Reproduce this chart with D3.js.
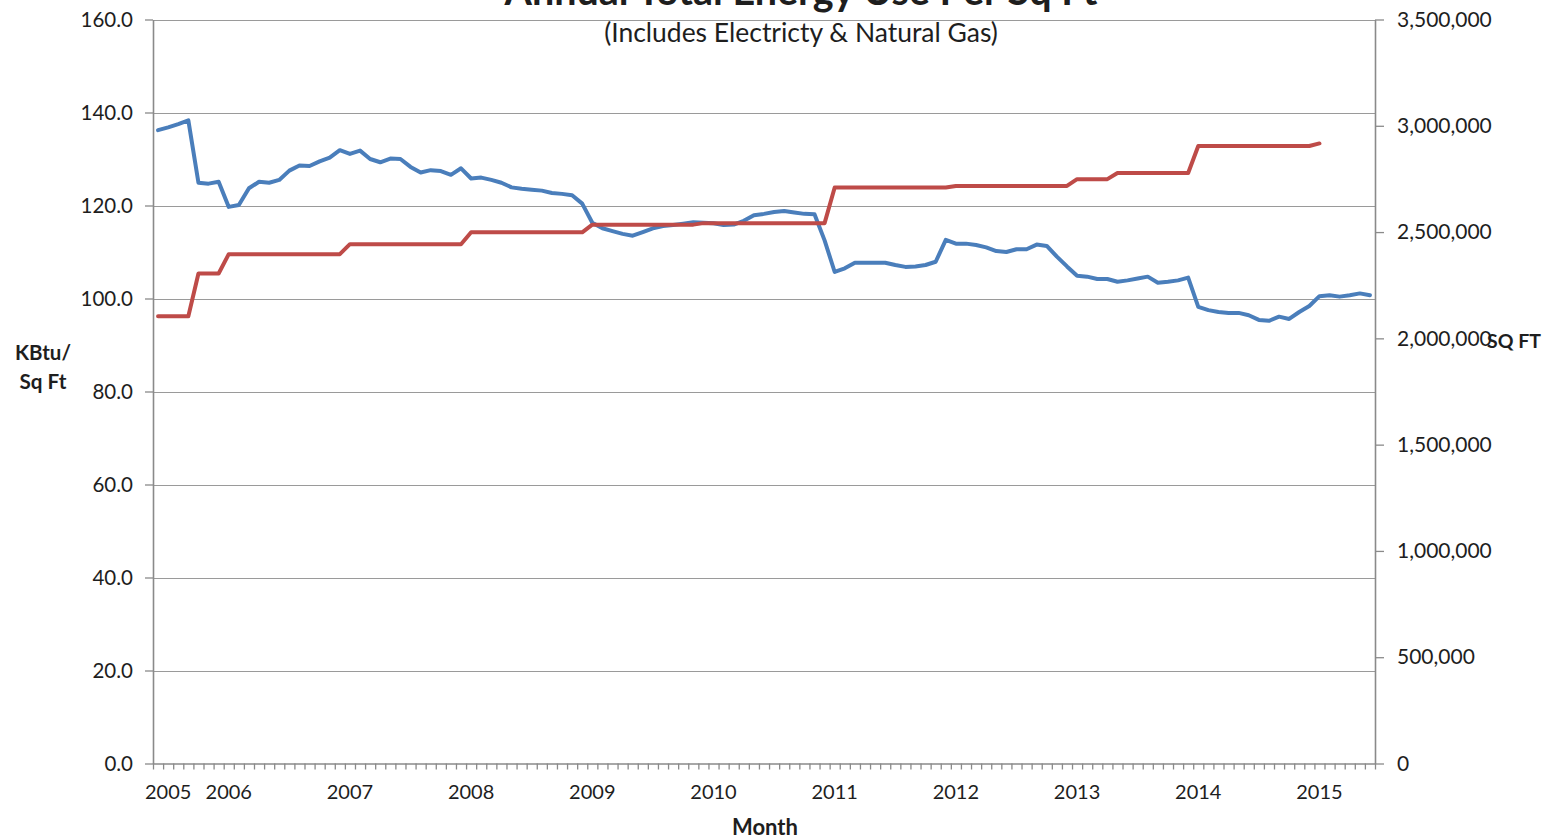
<!DOCTYPE html>
<html>
<head>
<meta charset="utf-8">
<script src="https://cdn.jsdelivr.net/npm/d3@7"></script>
<style>
  html, body { margin: 0; padding: 0; background: #ffffff; }
  svg { display: block; }
  text { font-family: Lato, "Open Sans", "Liberation Sans", sans-serif; fill: #1e1e1e; }
</style>
</head>
<body>
<svg id="chart" width="1548" height="839"></svg>
<script>
// ---------------- DATA ----------------
// Monthly categories, Jun 2005 .. Jun 2015
const months = d3.timeMonth.range(new Date(2005, 5, 1), new Date(2015, 6, 1)).map(d3.timeFormat("%Y-%m"));

// Category labels shown on the axis
const yearLabels = ["2005", "2006", "2007", "2008", "2009", "2010", "2011", "2012", "2013", "2014", "2015"];
const yearLabelMonths = ["2005-07", "2006-01", "2007-01", "2008-01", "2009-01", "2010-01", "2011-01", "2012-01", "2013-01", "2014-01", "2015-01"];

// Annual total energy use per sq ft (KBtu/Sq Ft), left axis
const kbtuPerSqFt = [
  136.2, 136.8, 137.5, 138.3, 124.9, 124.7, 125.1, 119.7, 120.1, 123.7,
  125.1, 124.9, 125.5, 127.5, 128.6, 128.5, 129.5, 130.3, 131.9, 131.1,
  131.8, 130.0, 129.3, 130.1, 130.0, 128.3, 127.1, 127.6, 127.4, 126.6,
  128.0, 125.8, 126.0, 125.5, 124.9, 123.9, 123.6, 123.4, 123.2, 122.7,
  122.5, 122.2, 120.4, 116.3, 115.1, 114.5, 113.9, 113.5, 114.3, 115.1,
  115.6, 115.8, 116.1, 116.4, 116.3, 116.2, 115.8, 115.9, 116.7, 117.9,
  118.2, 118.6, 118.8, 118.5, 118.2, 118.1, 112.5, 105.7, 106.5, 107.7,
  107.7, 107.7, 107.7, 107.2, 106.8, 106.9, 107.2, 107.9, 112.6, 111.8,
  111.8, 111.5, 111.0, 110.2, 110.0, 110.6, 110.6, 111.6, 111.3, 109.0,
  106.9, 104.9, 104.7, 104.2, 104.2, 103.6, 103.9, 104.3, 104.7, 103.4,
  103.6, 103.9, 104.5, 98.2, 97.5, 97.1, 96.9, 96.9, 96.4, 95.4,
  95.2, 96.1, 95.6, 97.1, 98.4, 100.5, 100.7, 100.4, 100.7, 101.1,
  100.7
];

// Total square footage, right axis
const sqFt = [
  2104000, 2104000, 2104000, 2104000,
  2305000, 2305000, 2305000,
  2396000, 2396000, 2396000, 2396000, 2396000, 2396000, 2396000, 2396000, 2396000, 2396000, 2396000, 2396000,
  2443000, 2443000, 2443000, 2443000, 2443000, 2443000, 2443000, 2443000, 2443000, 2443000, 2443000, 2443000,
  2499000, 2499000, 2499000, 2499000, 2499000, 2499000, 2499000, 2499000, 2499000, 2499000, 2499000, 2499000,
  2535000, 2535000, 2535000, 2535000, 2535000, 2535000, 2535000, 2535000, 2535000, 2535000, 2535000,
  2542000, 2542000, 2542000, 2542000, 2542000, 2542000, 2542000, 2542000, 2542000, 2542000, 2542000, 2542000, 2542000,
  2710000, 2710000, 2710000, 2710000, 2710000, 2710000, 2710000, 2710000, 2710000, 2710000, 2710000, 2710000,
  2717000, 2717000, 2717000, 2717000, 2717000, 2717000, 2717000, 2717000, 2717000, 2717000, 2717000, 2717000,
  2749000, 2749000, 2749000, 2749000,
  2778000, 2778000, 2778000, 2778000, 2778000, 2778000, 2778000, 2778000,
  2905000, 2905000, 2905000, 2905000, 2905000, 2905000, 2905000, 2905000, 2905000, 2905000, 2905000, 2905000,
  2917000
];

const leftTicks = [0, 20, 40, 60, 80, 100, 120, 140, 160];
const rightTicks = [0, 500000, 1000000, 1500000, 2000000, 2500000, 3000000, 3500000];

// ---------------- LAYOUT ----------------
const L = 153, R = 1375, T = 19.5, B = 763.5;
const svg = d3.select("#chart");

const x = d3.scaleLinear().domain([0, months.length]).range([L, R]);
const yL = d3.scaleLinear().domain([0, 160]).range([B, T]);
const yR = d3.scaleLinear().domain([0, 3500000]).range([B, T]);
const cx = i => x(i + 0.5);

const axisColor = "#8a8a8a";

// gridlines
svg.append("g")
  .selectAll("line")
  .data(leftTicks.filter(d => d > 0))
  .join("line")
  .attr("x1", L).attr("x2", R)
  .attr("y1", d => Math.round(yL(d)) + 0.5)
  .attr("y2", d => Math.round(yL(d)) + 0.5)
  .attr("stroke", "#9a9a9a")
  .attr("stroke-width", 1.2);

function styleAxis(g, fs) {
  g.selectAll("path.domain").attr("stroke", axisColor).attr("stroke-width", 1.6);
  g.selectAll(".tick line").attr("stroke", axisColor).attr("stroke-width", 1.3);
  g.selectAll(".tick text").attr("font-size", fs || 20).attr("fill", "#1e1e1e")
    .style("font-family", "Lato, 'Open Sans', sans-serif");
}

// left axis
svg.append("g")
  .attr("transform", `translate(${L},0)`)
  .call(d3.axisLeft(yL).tickValues(leftTicks).tickSize(8).tickSizeOuter(0).tickPadding(12).tickFormat(d3.format(".1f")))
  .call(g => styleAxis(g, 20.5));

// right axis
svg.append("g")
  .attr("transform", `translate(${R},0)`)
  .call(d3.axisRight(yR).tickValues(rightTicks).tickSize(9).tickSizeOuter(0).tickPadding(13).tickFormat(d3.format(",")))
  .call(g => styleAxis(g, 21));

// bottom axis (tick marks between month categories)
svg.append("g")
  .attr("transform", `translate(0,${B})`)
  .call(d3.axisBottom(x).tickValues(d3.range(0, months.length + 1)).tickSize(6).tickSizeOuter(0).tickFormat(""))
  .call(g => styleAxis(g, 20));

// year labels
svg.append("g")
  .selectAll("text")
  .data(yearLabels)
  .join("text")
  .attr("x", (d, i) => cx(months.indexOf(yearLabelMonths[i])))
  .attr("y", 799)
  .attr("text-anchor", "middle")
  .attr("font-size", 20)
  .text(d => d);

// lines
const lineL = d3.line().x((d, i) => cx(i)).y(d => yL(d));
const lineR = d3.line().x((d, i) => cx(i)).y(d => yR(d));

svg.append("path")
  .datum(kbtuPerSqFt)
  .attr("d", lineL)
  .attr("fill", "none")
  .attr("stroke", "#4a7ebb")
  .attr("stroke-width", 4)
  .attr("stroke-linejoin", "round")
  .attr("stroke-linecap", "round");

svg.append("path")
  .datum(sqFt)
  .attr("d", lineR)
  .attr("fill", "none")
  .attr("stroke", "#be4b48")
  .attr("stroke-width", 4)
  .attr("stroke-linejoin", "round")
  .attr("stroke-linecap", "round");

// text helper: fit to a measured width
function fitText(sel, targetW) {
  const node = sel.node();
  const fs = parseFloat(sel.attr("font-size"));
  const w = node.getComputedTextLength();
  if (w > 0) sel.attr("font-size", (fs * targetW / w).toFixed(2));
  return sel;
}

// titles (main title sits partly above the top edge, as in the original)
fitText(svg.append("text")
  .attr("x", 801).attr("y", 5)
  .attr("text-anchor", "middle")
  .attr("font-size", 30).attr("font-weight", "bold")
  .text("Annual Total Energy Use Per Sq Ft"), 593);

fitText(svg.append("text")
  .attr("x", 801).attr("y", 42)
  .attr("text-anchor", "middle")
  .attr("font-size", 21)
  .text("(Includes Electricty & Natural Gas)"), 394);

// axis titles
fitText(svg.append("text")
  .attr("x", 43).attr("y", 360)
  .attr("text-anchor", "middle")
  .attr("font-size", 19).attr("font-weight", "bold")
  .text("KBtu/"), 56);
fitText(svg.append("text")
  .attr("x", 43).attr("y", 389)
  .attr("text-anchor", "middle")
  .attr("font-size", 19).attr("font-weight", "bold")
  .text("Sq Ft"), 47);
fitText(svg.append("text")
  .attr("x", 1487).attr("y", 348)
  .attr("text-anchor", "start")
  .attr("font-size", 19).attr("font-weight", "bold")
  .text("SQ FT"), 54);
fitText(svg.append("text")
  .attr("x", 765).attr("y", 835)
  .attr("text-anchor", "middle")
  .attr("font-size", 19).attr("font-weight", "bold")
  .text("Month"), 66);
</script>
</body>
</html>
